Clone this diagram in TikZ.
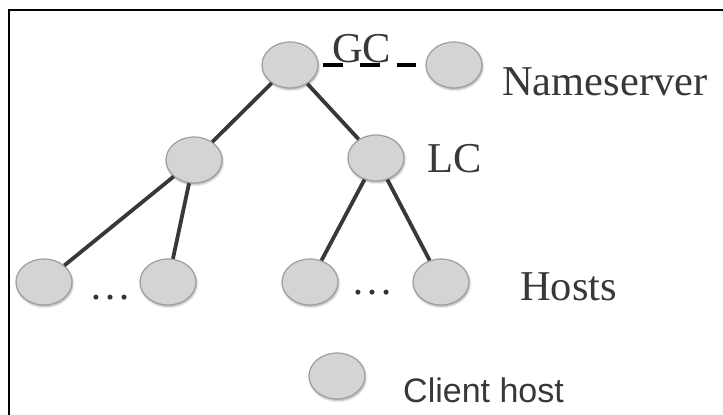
\documentclass[tikz,border=0pt]{standalone}
\usepackage{fontspec}
\setmainfont{Liberation Serif}
\newfontfamily\labelsans{Liberation Sans}
\usetikzlibrary{shapes.geometric,shadows.blur}
\begin{document}
\begin{tikzpicture}[x=1pt,y=-1pt,
  hostnode/.style={ellipse, minimum width=56pt, minimum height=46pt, inner sep=0pt,
    fill=black!17, draw=black!38, line width=1.2pt,
    blur shadow={shadow xshift=0.8pt, shadow yshift=-1.6pt, shadow blur radius=2pt, shadow opacity=35}},
  link/.style={draw=black!78, line width=3.8pt},
  dashlink/.style={draw=black, line width=4.5pt, dash pattern=on 20pt off 17pt},
  bigtext/.style={font=\fontsize{42.5}{42.5}\selectfont, text=black!78, inner sep=0pt, anchor=base west},
  dotstext/.style={font=\fontsize{42}{42}\selectfont, text=black!80, inner sep=0pt, anchor=base},
  sanstext/.style={font=\labelsans\fontsize{34}{34}\selectfont, text=black!78, inner sep=0pt, anchor=base west}]
  \useasboundingbox (0,0) rectangle (723,415);

  % frame
  \draw[line width=2pt, black] (9,416) |- (724,10);

  % tree
  \node[hostnode] (gc) at (290,65) {};
  \node[hostnode] (ns) at (454,65) {};
  \node[hostnode] (l1) at (194,160) {};
  \node[hostnode] (lc) at (376,158) {};
  \node[hostnode] (h1) at (44,282) {};
  \node[hostnode] (h2) at (168,282) {};
  \node[hostnode] (h3) at (310,282) {};
  \node[hostnode] (h4) at (441,282) {};
  \node[hostnode] (ch) at (337,376) {};

  \draw[link] (gc) -- (l1);
  \draw[link] (gc) -- (lc);
  \draw[link] (l1) -- (h1);
  \draw[link] (l1) -- (h2);
  \draw[link] (lc) -- (h3);
  \draw[link] (lc) -- (h4);
  \draw[dashlink, shorten <=4pt, shorten >=9pt] (gc.east) -- (ns.west);

  % labels
  \node[bigtext] (gclabel) at (332,62) {GC};
  \node[bigtext] (nslabel) at (502,95) {Nameserver};
  \node[bigtext] (lclabel) at (427,172) {LC};
  \node[bigtext] (hostslabel) at (520,300) {Hosts};
  \node[dotstext] (dotsleft) at (110,299) {…};
  \node[dotstext] (dotsright) at (372,294) {…};
  \node[sanstext] (chlabel) at (403,402) {Client host};
\end{tikzpicture}
\end{document}
